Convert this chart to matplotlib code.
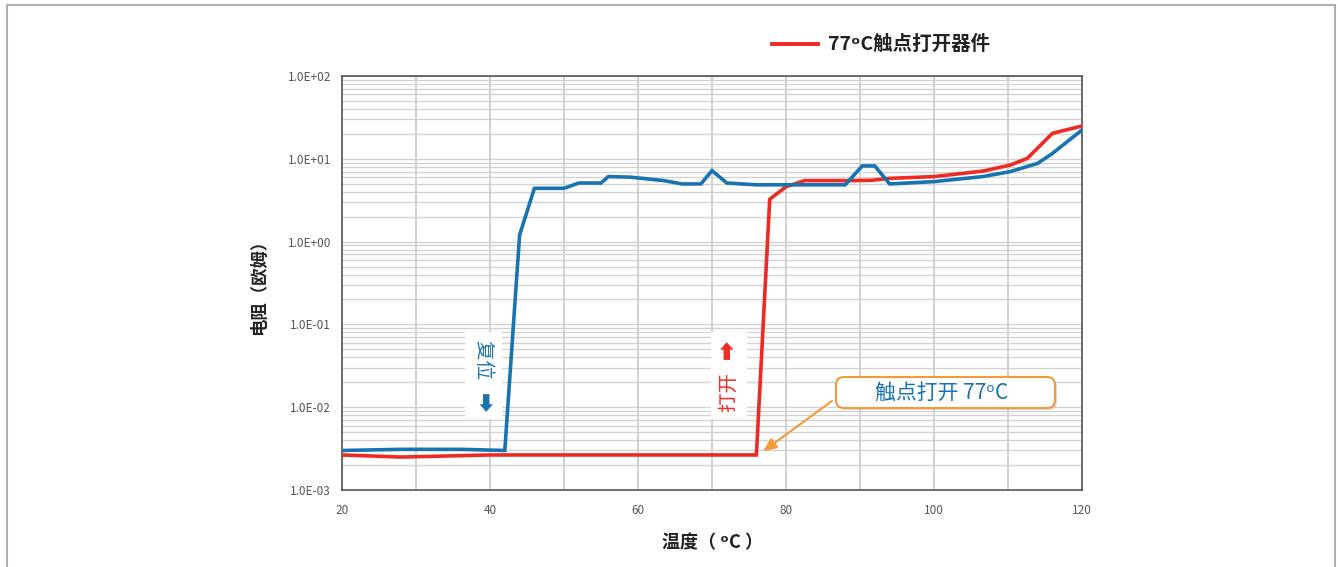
import matplotlib.pyplot as plt
import matplotlib.ticker as mticker
from matplotlib.lines import Line2D
from matplotlib.patches import FancyBboxPatch, Rectangle
import numpy as np

plt.rcParams['font.family'] = ['Noto Sans CJK SC', 'DejaVu Sans']

# 复位曲线 (蓝)
blue_t = [20, 28, 36, 42, 44, 46, 50, 52, 55, 56, 59, 63.5, 66, 68.5, 70, 72, 76, 80, 88,
          90.3, 92, 94, 100, 106.6, 110.3, 114, 116, 120]
blue_r = [0.0030, 0.0031, 0.0031, 0.0030, 1.2, 4.4, 4.4, 5.1, 5.1, 6.1, 6.0, 5.45, 4.97, 4.97,
          7.2, 5.1, 4.85, 4.85, 4.85, 8.2, 8.2, 4.97, 5.3, 6.1, 7.0, 8.8, 11.6, 22.3]

# 打开曲线 (红)
red_t = [20, 28, 40, 50, 76, 77.8, 80, 82.5, 88, 91.5, 94, 100, 106.6, 110.3, 112.6, 116, 120]
red_r = [0.00265, 0.0025, 0.00265, 0.00265, 0.00265, 3.25, 4.6, 5.45, 5.45, 5.5, 5.8, 6.1,
         7.1, 8.4, 10.1, 20.3, 24.9]

y_ticks = [1e-3, 1e-2, 1e-1, 1e0, 1e1, 1e2]
y_labels = ['1.0E-03', '1.0E-02', '1.0E-01', '1.0E+00', '1.0E+01', '1.0E+02']
x_ticks = [20, 40, 60, 80, 100, 120]

BLUE = '#1874b0'
RED = '#ee2a24'
ORANGE = '#f39a3a'

fig = plt.figure(figsize=(13.38, 5.67), dpi=100)
ax = fig.add_axes([342 / 1338, 1 - 490 / 567, 740 / 1338, 414 / 567])

ax.set_yscale('log')
ax.set_xlim(20, 120)
ax.set_ylim(1e-3, 1e2)

# 网格
ax.yaxis.set_minor_locator(mticker.LogLocator(base=10, subs=np.arange(2, 10)))
ax.xaxis.set_minor_locator(mticker.MultipleLocator(10))
ax.grid(which='both', axis='y', color='#d2d2d2', lw=1.0)
ax.grid(which='both', axis='x', color='#c4c4c4', lw=1.1)
ax.set_axisbelow(True)

ax.set_yticks(y_ticks)
ax.set_yticklabels(y_labels)
ax.set_xticks(x_ticks)
ax.tick_params(which='both', length=0)
ax.tick_params(axis='y', labelsize=8.5, labelcolor='#555555', pad=8)
ax.tick_params(axis='x', labelsize=8.5, labelcolor='#555555', pad=10)
ax.yaxis.set_minor_formatter(mticker.NullFormatter())
for s in ax.spines.values():
    s.set_color('#555555')
    s.set_linewidth(1.2)

ax.plot(red_t, red_r, color=RED, lw=2.6, solid_joinstyle='miter', zorder=3)
ax.plot(blue_t, blue_r, color=BLUE, lw=2.6, solid_joinstyle='miter', zorder=4)

ax.set_ylabel('电阻（欧姆）', fontsize=12.5, fontweight='bold', color='#222222', labelpad=14)
ax.set_xlabel('温度（ ᵒC ）', fontsize=13, fontweight='bold', color='#222222', labelpad=12)

# 竖排标注
ax.text(39.1, 0.024, '复位   ➡', rotation=-90, color=BLUE, fontsize=14,
        ha='center', va='center', zorder=5,
        bbox=dict(boxstyle='square,pad=0.4', fc='white', ec='none'))
ax.text(72.3, 0.024, '打开   ➡', rotation=90, color=RED, fontsize=14,
        ha='center', va='center', zorder=5,
        bbox=dict(boxstyle='square,pad=0.4', fc='white', ec='none'))

# 标注框
bx0, bx1, by0, by1 = 836 / 1338, 1055 / 1338, 1 - 408 / 567, 1 - 377 / 567
aspect = 1338 / 567
shadow = FancyBboxPatch((bx0 + 2 / 1338, by0 - 2 / 567), bx1 - bx0, by1 - by0,
                        boxstyle='round,pad=0,rounding_size=0.006', mutation_aspect=aspect,
                        transform=fig.transFigure, fc='#bbbbbb', ec='none', alpha=0.5, zorder=6)
box = FancyBboxPatch((bx0, by0), bx1 - bx0, by1 - by0,
                     boxstyle='round,pad=0,rounding_size=0.006', mutation_aspect=aspect,
                     transform=fig.transFigure, fc='white', ec=ORANGE, lw=1.5, zorder=7)
fig.add_artist(shadow)
fig.add_artist(box)
fig.text((bx0 + bx1) / 2 - 4 / 1338, (by0 + by1) / 2, '触点打开 77ᵒC', color=BLUE, fontsize=15,
         ha='center', va='center', zorder=8)
ax.annotate('', xy=(76.6, 0.0028), xycoords='data',
            xytext=(832 / 1338, 1 - 401 / 567), textcoords='figure fraction',
            arrowprops=dict(arrowstyle='-|>,head_length=0.8,head_width=0.35',
                            color=ORANGE, lw=1.5, shrinkA=0, shrinkB=2), zorder=6)

# 图例
fig.add_artist(Line2D([772 / 1338, 818 / 1338], [1 - 44 / 567] * 2, color=RED, lw=2.8))
fig.text(828 / 1338, 1 - 44 / 567, '77ᵒC触点打开器件', fontsize=14, fontweight='bold',
         color='#222222', ha='left', va='center')

# 外框
fig.add_artist(Rectangle((7 / 1338, -0.02), 1328 / 1338, 1.02 - 5 / 567,
                         transform=fig.transFigure, fill=False, ec='#b0b0b0', lw=1.5))

fig.savefig('out.png', dpi=100, facecolor='white')
